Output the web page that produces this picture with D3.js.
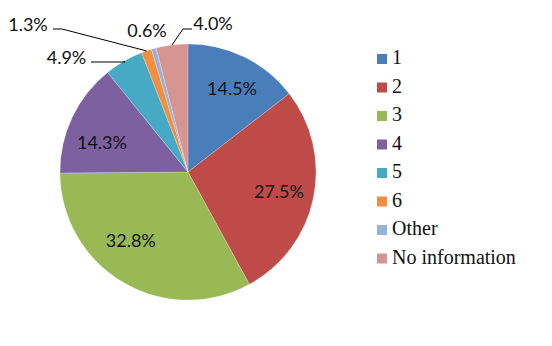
<!DOCTYPE html>
<html>
<head>
<meta charset="utf-8">
<script src="https://cdn.jsdelivr.net/npm/d3@7"></script>
<style>
  html, body { margin: 0; padding: 0; background: #fff; }
  svg { display: block; }
</style>
</head>
<body>
<svg id="chart" width="552" height="346"></svg>
<script>
// Share of cases by category (percent)
const categories = ["1", "2", "3", "4", "5", "6", "Other", "No information"];
const shares = [14.5, 27.5, 32.8, 14.3, 4.9, 1.3, 0.6, 4.0];
const valueLabels = ["14.5%", "27.5%", "32.8%", "14.3%", "4.9%", "1.3%", "0.6%", "4.0%"];
const colors = ["#4A7EBB", "#BE4B48", "#98B954", "#7D60A0", "#46AAC5", "#F38F40", "#97B3D9", "#D79592"];

const svg = d3.select("#chart");
const cx = 188, cy = 172, radius = 128;

const pie = d3.pie().sort(null).value(d => d.value);
const arcs = pie(categories.map((c, i) => ({ name: c, value: shares[i], label: valueLabels[i], color: colors[i] })));
const arc = d3.arc().innerRadius(0).outerRadius(radius);

const g = svg.append("g").attr("transform", `translate(${cx},${cy})`);

g.selectAll("path.slice")
  .data(arcs)
  .join("path")
  .attr("class", "slice")
  .attr("d", arc)
  .attr("fill", d => d.data.color)
  .attr("stroke", "#ffffff")
  .attr("stroke-opacity", 0.35)
  .attr("stroke-width", 0.6);

// Label placement: inside labels by polar offset (angle in degrees from 12 o'clock, radius in px);
// small slices get outside labels with leader lines to the slice's rim.
const labelFont = "Lato, 'Liberation Sans', sans-serif";
const inside = { 0: [27.6, 95], 1: [102, 93], 2: [220, 89], 3: [289, 91] };
const outside = {
  4: { x: 66.5, y: 57, line: [[91, 62], [125, 62]] },
  5: { x: 28, y: 24, line: [[53, 29], [62, 29]] },
  6: { x: 147, y: 30, line: null },
  7: { x: 213, y: 23, line: [[192, 29], [183, 29]] }
};

arcs.forEach((d, i) => {
  if (inside[i]) {
    const [deg, r] = inside[i];
    const a = deg * Math.PI / 180;
    g.append("text")
      .attr("x", r * Math.sin(a))
      .attr("y", -r * Math.cos(a))
      .attr("text-anchor", "middle")
      .attr("dominant-baseline", "central")
      .attr("font-family", labelFont)
      .attr("font-size", 18)
      .attr("fill", "#111")
      .text(d.data.label);
  } else {
    const o = outside[i];
    svg.append("text")
      .attr("x", o.x)
      .attr("y", o.y)
      .attr("text-anchor", "middle")
      .attr("dominant-baseline", "central")
      .attr("font-family", labelFont)
      .attr("font-size", 18)
      .attr("fill", "#111")
      .text(d.data.label);
    if (o.line) {
      const mid = (d.startAngle + d.endAngle) / 2;
      const rim = [cx + radius * Math.sin(mid), cy - radius * Math.cos(mid)];
      const pts = o.line.concat([rim]);
      svg.append("path")
        .attr("d", d3.line()(pts))
        .attr("fill", "none")
        .attr("stroke", "#000")
        .attr("stroke-width", 1);
    }
  }
});

// Legend
const legend = svg.append("g").attr("transform", "translate(377,54)");
const rowH = 28.5;
const items = legend.selectAll("g.item")
  .data(arcs)
  .join("g")
  .attr("class", "item")
  .attr("transform", (d, i) => `translate(0,${i * rowH})`);
items.append("rect")
  .attr("width", 10)
  .attr("height", 10)
  .attr("fill", d => d.data.color);
items.append("text")
  .attr("x", 15)
  .attr("y", 10)
  .attr("font-family", "'Liberation Serif', 'DejaVu Serif', serif")
  .attr("font-size", 20)
  .attr("fill", "#111")
  .text(d => d.data.name);
</script>
</body>
</html>
